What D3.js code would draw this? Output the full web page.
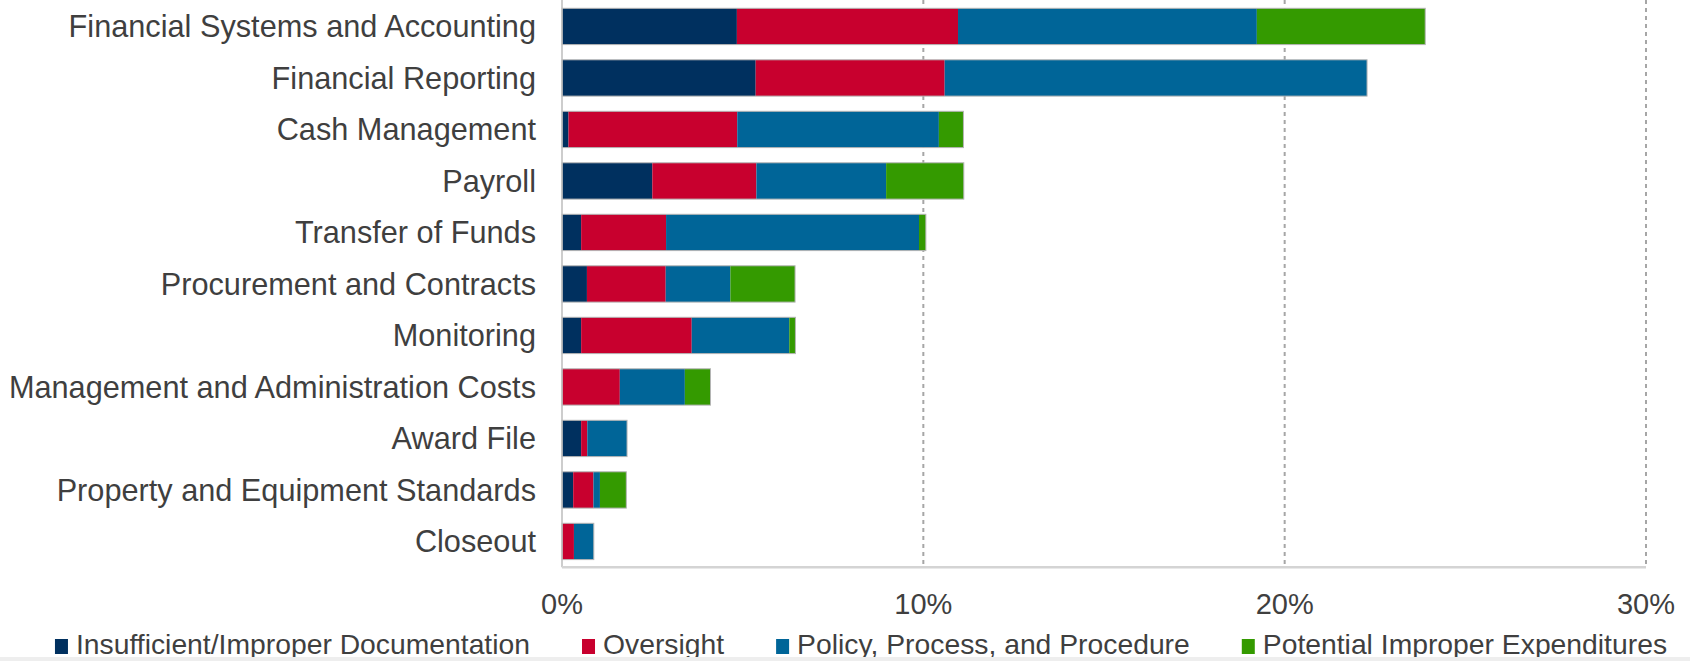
<!DOCTYPE html>
<html>
<head>
<meta charset="utf-8">
<script src="https://cdn.jsdelivr.net/npm/d3@7"></script>
<style>
  html, body { margin: 0; padding: 0; background: #fff; }
  svg { display: block; font-family: "Liberation Sans", Arial, sans-serif; }
</style>
</head>
<body>
<div id="chart"></div>
<script>
// findings by area, share of all findings (%)
const categories = [
    'Financial Systems and Accounting',
    'Financial Reporting',
    'Cash Management',
    'Payroll',
    'Transfer of Funds',
    'Procurement and Contracts',
    'Monitoring',
    'Management and Administration Costs',
    'Award File',
    'Property and Equipment Standards',
    'Closeout'
];
const seriesNames = [
    'Insufficient/Improper Documentation',
    'Oversight',
    'Policy, Process, and Procedure',
    'Potential Improper Expenditures'
];
const documentation = [4.84, 5.36, 0.18, 2.50, 0.53, 0.69, 0.53, 0, 0.53, 0.31, 0];
const oversight = [6.12, 5.23, 4.67, 2.88, 2.35, 2.18, 3.06, 1.60, 0.17, 0.56, 0.33];
const policy = [8.27, 11.69, 5.58, 3.59, 7.00, 1.79, 2.70, 1.80, 1.10, 0.18, 0.55];
const improper = [4.66, 0, 0.68, 2.15, 0.19, 1.79, 0.17, 0.71, 0, 0.73, 0];
const xTicks = [0, 10, 20, 30];

const colors = ['#00305f', '#c8002e', '#006598', '#349a00'];

const W = 1690, H = 661;
const plot = { left: 562, right: 1646, top: 0.7, bottom: 567.2 };

const rows = categories.map((c, i) => ({
    category: c,
    [seriesNames[0]]: documentation[i],
    [seriesNames[1]]: oversight[i],
    [seriesNames[2]]: policy[i],
    [seriesNames[3]]: improper[i]
}));

const stacked = d3.stack().keys(seriesNames)(rows);

const svg = d3.select('#chart')
    .append('svg')
    .attr('width', W)
    .attr('height', H);

svg.append('rect')
    .attr('width', W)
    .attr('height', H)
    .attr('fill', '#fff');

const x = d3.scaleLinear()
    .domain([0, 30])
    .range([plot.left, plot.right]);

const y = d3.scaleBand()
    .domain(categories)
    .range([plot.top, plot.bottom])
    .paddingInner(0.295)
    .paddingOuter(0.1475);

// dashed gridlines
svg.append('g')
    .selectAll('line')
    .data(xTicks.filter(t => t > 0))
    .enter()
    .append('line')
    .attr('x1', d => x(d))
    .attr('x2', d => x(d))
    .attr('y1', 0)
    .attr('y2', plot.bottom)
    .attr('stroke', '#a6a6a6')
    .attr('stroke-width', 2)
    .attr('stroke-dasharray', '4,4');

// stacked bars
svg.append('g')
    .selectAll('g')
    .data(stacked)
    .enter()
    .append('g')
    .attr('fill', (d, i) => colors[i])
    .selectAll('rect')
    .data(d => d)
    .enter()
    .append('rect')
    .attr('x', d => x(d[0]))
    .attr('y', d => y(d.data.category))
    .attr('width', d => x(d[1]) - x(d[0]))
    .attr('height', y.bandwidth());

// faint outline round each whole bar
const last = stacked[stacked.length - 1];
svg.append('g')
    .selectAll('rect')
    .data(last)
    .enter()
    .append('rect')
    .attr('x', x(0))
    .attr('y', d => y(d.data.category))
    .attr('width', d => x(d[1]) - x(0))
    .attr('height', y.bandwidth())
    .attr('fill', 'none')
    .attr('stroke', '#b5b5b5')
    .attr('stroke-width', 1);

// axes lines
svg.append('line')
    .attr('x1', plot.left).attr('x2', plot.left)
    .attr('y1', 0).attr('y2', plot.bottom)
    .attr('stroke', '#bdbdbd')
    .attr('stroke-width', 1.5);

svg.append('line')
    .attr('x1', plot.left).attr('x2', plot.right)
    .attr('y1', plot.bottom).attr('y2', plot.bottom)
    .attr('stroke', '#d4d4d4')
    .attr('stroke-width', 2.5);

// category labels
svg.append('g')
    .selectAll('text')
    .data(categories)
    .enter()
    .append('text')
    .attr('x', 536)
    .attr('y', d => y(d) + y.bandwidth() / 2)
    .attr('dy', '0.35em')
    .attr('text-anchor', 'end')
    .attr('font-size', '30.7px')
    .attr('fill', '#3f3f3f')
    .text(d => d);

// x tick labels
svg.append('g')
    .selectAll('text')
    .data(xTicks)
    .enter()
    .append('text')
    .attr('x', d => x(d))
    .attr('y', 614)
    .attr('text-anchor', 'middle')
    .attr('font-size', '29px')
    .attr('fill', '#3f3f3f')
    .text(d => d + '%');

// legend, laid out left to right then centred
const legend = svg.append('g');
let cursor = 0;
seriesNames.forEach((name, i) => {
    const item = legend.append('g').attr('transform', `translate(${cursor},0)`);
    item.append('rect')
        .attr('x', 0)
        .attr('y', -15)
        .attr('width', 13)
        .attr('height', 15)
        .attr('fill', colors[i]);
    const t = item.append('text')
        .attr('x', 21)
        .attr('y', 0)
        .attr('font-size', '28.3px')
        .attr('fill', '#3f3f3f')
        .text(name);
    cursor += 21 + t.node().getComputedTextLength() + 52;
});
const legendWidth = cursor - 52;
legend.attr('transform', `translate(${861 - legendWidth / 2},654)`);

// faint grey strip at the very bottom of the picture
svg.append('rect')
    .attr('x', 0)
    .attr('y', 657)
    .attr('width', W)
    .attr('height', 4)
    .attr('fill', '#eeeeee');
</script>
</body>
</html>
